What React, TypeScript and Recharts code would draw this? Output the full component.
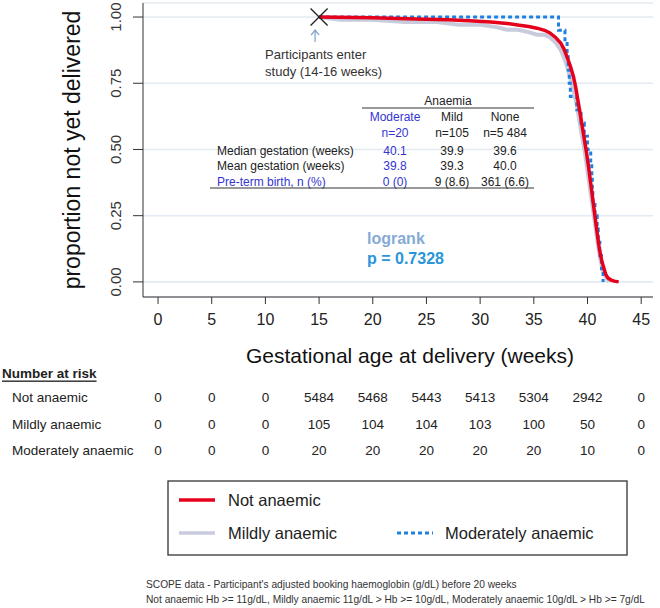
import React from "react";
import { ComposedChart, Line, Scatter, XAxis, YAxis, CartesianGrid } from "recharts";

// Kaplan-Meier style curves
const notWeeks = [15, 20, 24, 27, 29, 31, 32.5, 33.5, 34.5, 35.3, 36, 36.5, 37, 37.5, 37.8, 38.1, 38.4, 38.7, 38.9, 39.1, 39.3, 39.5, 39.7, 39.9, 40.1, 40.3, 40.5, 40.7, 40.9, 41.1, 41.3, 41.5, 41.7, 41.9, 42.2, 42.5, 42.9];
const notProp = [1.0, 0.997, 0.993, 0.99, 0.986, 0.981, 0.976, 0.97, 0.964, 0.958, 0.95, 0.94, 0.924, 0.902, 0.88, 0.849, 0.815, 0.774, 0.735, 0.687, 0.64, 0.59, 0.54, 0.49, 0.434, 0.372, 0.309, 0.246, 0.185, 0.125, 0.085, 0.055, 0.028, 0.015, 0.007, 0.003, 0.0];

const mildWeeks = [15, 17, 20, 23, 26, 28, 30, 31.5, 32.5, 33.5, 34.5, 35.3, 36, 36.5, 37, 37.5, 37.9, 38.2, 38.5, 38.8, 39.0, 39.2, 39.4, 39.6, 39.8, 40.0, 40.2, 40.4, 40.6, 40.8, 41.0, 41.2, 41.4, 41.7, 42.0];
const mildProp = [1.0, 0.99, 0.99, 0.981, 0.981, 0.971, 0.971, 0.962, 0.952, 0.952, 0.943, 0.933, 0.933, 0.924, 0.905, 0.876, 0.838, 0.8, 0.752, 0.705, 0.667, 0.619, 0.571, 0.524, 0.476, 0.419, 0.362, 0.305, 0.248, 0.19, 0.133, 0.086, 0.048, 0.019, 0.0];

const modWeeks = [15, 37.3, 37.9, 38.1, 38.2, 38.3, 38.4, 39.0, 39.4, 39.7, 40.0, 40.3, 40.4, 40.45, 40.5, 40.7, 40.9, 41.0, 41.15, 41.3, 41.45];
const modProp = [1.0, 0.95, 0.9, 0.85, 0.8, 0.75, 0.7, 0.65, 0.6, 0.55, 0.5, 0.45, 0.4, 0.35, 0.3, 0.25, 0.2, 0.15, 0.1, 0.05, 0.0];

const entryPoint = [{ week: 15, p: 1 }];

const xTicks = [0, 5, 10, 15, 20, 25, 30, 35, 40, 45];
const yTicks = [0, 0.25, 0.5, 0.75, 1];

// number at risk
const riskLabels = ["Not anaemic", "Mildly anaemic", "Moderately anaemic"];
const riskNot = [0, 0, 0, 5484, 5468, 5443, 5413, 5304, 2942, 0];
const riskMild = [0, 0, 0, 105, 104, 104, 103, 100, 50, 0];
const riskMod = [0, 0, 0, 20, 20, 20, 20, 20, 10, 0];

// summary table
const tableGroups = ["Moderate", "Mild", "None"];
const tableN = ["n=20", "n=105", "n=5 484"];
const tableRows = ["Median gestation (weeks)", "Mean gestation (weeks)", "Pre-term birth, n (%)"];
const medianGest = ["40.1", "39.9", "39.6"];
const meanGest = ["39.8", "39.3", "40.0"];
const pretermBirth = ["0 (0)", "9 (8.6)", "361 (6.6)"];

const toRows = (w: number[], p: number[]) => w.map((week, i) => ({ week, p: p[i] }));

const FONT = "'Liberation Sans', Arial, sans-serif";
const RED = "#e5001c";
const GREY = "#c8cbdc";
const BLUE = "#1f80e2";
const PURPLE = "#3434d2";

// plot geometry (shared with the at-risk table)
const PLOT_LEFT = 143;
const PLOT_RIGHT = 653;
const X_MIN = -1.4;
const X_MAX = 46.1;
const weekToX = (w: number) => PLOT_LEFT + ((w - X_MIN) / (X_MAX - X_MIN)) * (PLOT_RIGHT - PLOT_LEFT);

const YTick = (props: any) => {
  const { x, y, payload } = props;
  const bx = x - 10;
  return (
    <text x={bx} y={y} transform={`rotate(-90 ${bx} ${y})`} textAnchor="middle" fontSize={15} fill="#333" fontFamily={FONT}>
      {payload.value.toFixed(2)}
    </text>
  );
};

const EntryMark = (props: any) => {
  const { cx, cy } = props;
  const s = 8.5;
  const ax = cx - 4;
  return (
    <g>
      <line x1={cx - s} y1={cy - s} x2={cx + s} y2={cy + s} stroke="#222" strokeWidth={1.3} />
      <line x1={cx - s} y1={cy + s} x2={cx + s} y2={cy - s} stroke="#222" strokeWidth={1.3} />
      <line x1={ax} y1={cy + 25} x2={ax} y2={cy + 13} stroke="#7f9fca" strokeWidth={1.2} />
      <polyline points={`${ax - 4},${cy + 18} ${ax},${cy + 13} ${ax + 4},${cy + 18}`} fill="none" stroke="#7f9fca" strokeWidth={1.2} />
      <text x={cx - 54} y={cy + 37} fontSize={13} fill="#333" fontFamily={FONT} dominantBaseline="central">Participants enter</text>
      <text x={cx - 54} y={cy + 54} fontSize={13} fill="#333" fontFamily={FONT} dominantBaseline="central">study (14-16 weeks)</text>
    </g>
  );
};

const colX = [395, 452, 505];

const Overlay = () => {
  const riskRows = [riskNot, riskMild, riskMod];
  const riskY = [397, 424, 450];
  const valueRows = [medianGest, meanGest, pretermBirth];
  const valueY = [151, 166, 182];
  return (
    <svg width={660} height={608} style={{ position: "absolute", left: 0, top: 0, pointerEvents: "none" }} fontFamily={FONT}>
      {/* axis titles */}
      <text x={72} y={150} transform="rotate(-90 72 150)" textAnchor="middle" dominantBaseline="central" fontSize={23} fill="#111">
        proportion not yet delivered
      </text>
      <text x={410} y={355} textAnchor="middle" dominantBaseline="central" fontSize={21} fill="#111">
        Gestational age at delivery (weeks)
      </text>

      {/* summary table */}
      <text x={448} y={101} textAnchor="middle" dominantBaseline="central" fontSize={12} fill="#222">Anaemia</text>
      <line x1={362} y1={108} x2={534} y2={108} stroke="#333" strokeWidth={1} />
      {tableGroups.map((g, i) => (
        <text key={g} x={colX[i]} y={117} textAnchor="middle" dominantBaseline="central" fontSize={12} fill={i === 0 ? PURPLE : "#222"}>{g}</text>
      ))}
      {tableN.map((n, i) => (
        <text key={n} x={colX[i]} y={133} textAnchor="middle" dominantBaseline="central" fontSize={12} fill={i === 0 ? PURPLE : "#222"}>{n}</text>
      ))}
      {tableRows.map((r, j) => (
        <g key={r}>
          <text x={217} y={valueY[j]} dominantBaseline="central" fontSize={12} fill={j === 2 ? PURPLE : "#222"}>{r}</text>
          {valueRows[j].map((v, i) => (
            <text key={i} x={colX[i]} y={valueY[j]} textAnchor="middle" dominantBaseline="central" fontSize={12} fill={i === 0 ? PURPLE : "#222"}>{v}</text>
          ))}
        </g>
      ))}
      <line x1={210} y1={188} x2={534} y2={188} stroke="#333" strokeWidth={1} />

      {/* logrank */}
      <text x={367} y={238} dominantBaseline="central" fontSize={16} fontWeight="bold" fill="#86aad6">logrank</text>
      <text x={367} y={258} dominantBaseline="central" fontSize={16} fontWeight="bold" fill="#2a95d8">p = 0.7328</text>

      {/* number at risk */}
      <text x={2} y={373} dominantBaseline="central" fontSize={13.5} fontWeight="bold" fill="#222" textDecoration="underline">Number at risk</text>
      {riskLabels.map((lab, j) => (
        <g key={lab}>
          <text x={12} y={riskY[j]} dominantBaseline="central" fontSize={13.5} fill="#222">{lab}</text>
          {riskRows[j].map((v, i) => (
            <text key={i} x={weekToX(xTicks[i])} y={riskY[j]} textAnchor="middle" dominantBaseline="central" fontSize={13.5} fill="#222">{v}</text>
          ))}
        </g>
      ))}

      {/* legend */}
      <rect x={168} y={481} width={459} height={74} fill="#fff" stroke="#333" strokeWidth={1.3} />
      <line x1={179} y1={500} x2={215} y2={500} stroke={RED} strokeWidth={3.5} />
      <text x={228} y={500} dominantBaseline="central" fontSize={16.5} fill="#222">Not anaemic</text>
      <line x1={179} y1={533} x2={215} y2={533} stroke={GREY} strokeWidth={3.5} />
      <text x={228} y={533} dominantBaseline="central" fontSize={16.5} fill="#222">Mildly anaemic</text>
      <line x1={397} y1={533} x2={433} y2={533} stroke={BLUE} strokeWidth={3} strokeDasharray="4 3" />
      <text x={445} y={533} dominantBaseline="central" fontSize={16.5} fill="#222">Moderately anaemic</text>

      {/* footnote */}
      <text x={146} y={584} dominantBaseline="central" fontSize={10.2} fill="#333">
        SCOPE data - Participant's adjusted booking haemoglobin (g/dL) before 20 weeks
      </text>
      <text x={146} y={599} dominantBaseline="central" fontSize={10.2} fill="#333">
        Not anaemic Hb &gt;= 11g/dL, Mildly anaemic 11g/dL &gt; Hb &gt;= 10g/dL, Moderately anaemic 10g/dL &gt; Hb &gt;= 7g/dL
      </text>
    </svg>
  );
};

const App = () => {
  return (
    <div style={{ position: "absolute", left: 0, top: 0, width: 660, height: 608, background: "#fff", fontFamily: FONT }}>
      <div style={{ position: "absolute", left: 0, top: 0 }}>
        <ComposedChart width={660} height={370} margin={{ top: 3, right: 660 - PLOT_RIGHT, bottom: 0, left: 0 }}>
          <CartesianGrid vertical={false} stroke="#e3eaf1" strokeWidth={1.6} />
          <XAxis
            dataKey="week"
            type="number"
            domain={[X_MIN, X_MAX]}
            ticks={xTicks}
            allowDataOverflow
            height={73}
            tickSize={7}
            tickMargin={10}
            stroke="#333"
            tick={{ fontSize: 16, fill: "#222", fontFamily: FONT }}
          />
          <YAxis
            dataKey="p"
            type="number"
            domain={[-0.057, 1.053]}
            ticks={yTicks}
            allowDataOverflow
            width={PLOT_LEFT}
            tickSize={10}
            stroke="#333"
            tick={<YTick />}
          />
          <Line data={toRows(mildWeeks, mildProp)} dataKey="p" type="linear" stroke={GREY} strokeWidth={4} dot={false} isAnimationActive={false} />
          <Line data={toRows(modWeeks, modProp)} dataKey="p" type="stepAfter" stroke={BLUE} strokeWidth={3} strokeDasharray="4 3" dot={false} isAnimationActive={false} />
          <Line data={toRows(notWeeks, notProp)} dataKey="p" type="linear" stroke={RED} strokeWidth={3.5} dot={false} isAnimationActive={false} />
          <Scatter data={entryPoint} dataKey="p" shape={<EntryMark />} isAnimationActive={false} />
        </ComposedChart>
      </div>
      <Overlay />
    </div>
  );
};

export default App;
